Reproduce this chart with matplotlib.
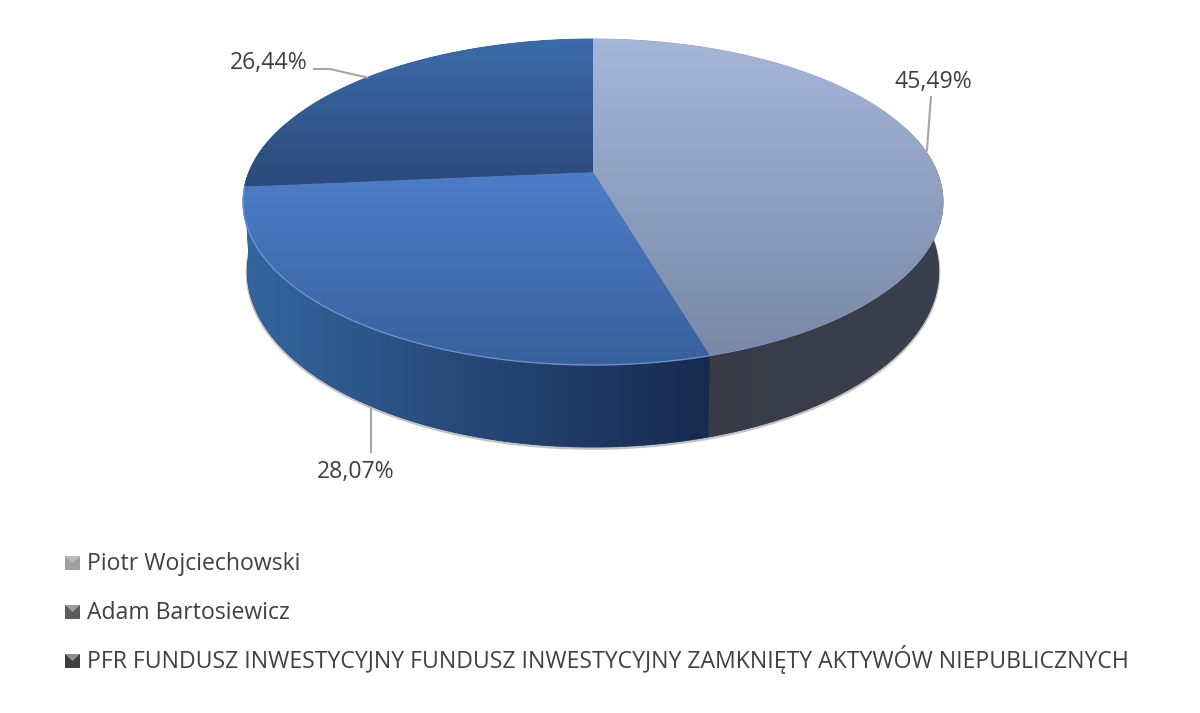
import numpy as np
import matplotlib
matplotlib.use('Agg')
import matplotlib.pyplot as plt
from matplotlib.colors import LinearSegmentedColormap, to_rgb
from matplotlib.patches import Polygon, Rectangle

## DATA ##
labels = ['Piotr Wojciechowski', 'Adam Bartosiewicz',
          'PFR FUNDUSZ INWESTYCYJNY FUNDUSZ INWESTYCYJNY ZAMKNIĘTY AKTYWÓW NIEPUBLICZNYCH']
values = [45.49, 28.07, 26.44]
value_labels = ['45,49%', '28,07%', '26,44%']
top_colors = [('#a6b6d9', '#7888a6'), ('#4e7dc8', '#38609c'), ('#3d6bab', '#2c4a7a')]
side_colors = [('#383b46', '#3a404e'), ('#35659f', '#172a4e'), ('#35659f', '#35659f')]
legend_colors = ['#a0a0a0', '#5c5c5c', '#3e3e3e']

## PIE GEOMETRY (perspective disc, in pixels) ##
CX, CY = 593, 172
RX, RY = 344, 157.5
K = 0.184
DEPTH = 67

TEXT = '#404040'
FONT = 'Open Sans'
FS = 16.6


def project(angle):
    # angle in radians, clockwise from the top of the disc
    u, v = np.sin(angle), np.cos(angle)
    w = 1 + K * v
    return CX + RX * u / w, CY - RY * v / w


def project_low(angle):
    v = np.cos(angle)
    x, y = project(angle)
    return CX + (x - CX) * 0.988, y + DEPTH / (1 + K * v)


def gradient(ax, poly_xy, c0, c1, horizontal=False, z=2):
    # solid layer first so no white seam shows between clipped images
    mean = tuple((np.array(to_rgb(c0)) + np.array(to_rgb(c1))) / 2)
    ax.add_patch(Polygon(poly_xy, closed=True, fc=mean, ec=mean, lw=0.6, zorder=z - 0.5))
    cmap = LinearSegmentedColormap.from_list('g', [c0, c1])
    xs, ys = poly_xy[:, 0], poly_xy[:, 1]
    ramp = np.linspace(0, 1, 256)
    img = ramp[None, :] if horizontal else ramp[:, None]
    im = ax.imshow(img, cmap=cmap, extent=(xs.min(), xs.max(), ys.max(), ys.min()),
                   aspect='auto', zorder=z, interpolation='bilinear')
    patch = Polygon(poly_xy, closed=True, transform=ax.transData, fc='none', ec='none')
    ax.add_patch(patch)
    im.set_clip_path(patch)


fig = plt.figure(figsize=(12, 7.13), dpi=100, facecolor='white')
ax = fig.add_axes([0, 0, 1, 1])

edges = np.cumsum([0] + values) / sum(values) * 2 * np.pi

# soft shadow under the rim
arc = np.linspace(np.pi / 2 - 0.1, 3 * np.pi / 2 + 0.1, 200)
sx, sy = project_low(arc)
ax.plot(sx, sy + 1.2, color='#c4c4c4', lw=2.2, zorder=1)

# side walls, only the part facing the viewer (a bit past the sides for the silhouette)
for i in range(3):
    a0 = max(edges[i], np.pi / 2 - 0.3)
    a1 = min(edges[i + 1], 3 * np.pi / 2 + 0.3)
    if a1 <= a0:
        continue
    arc = np.linspace(a0, a1, 120)
    tx, ty = project(arc)
    lx, ly = project_low(arc)
    wall = np.column_stack([np.r_[tx, lx[::-1]], np.r_[ty, ly[::-1]]])
    gradient(ax, wall, side_colors[i][0], side_colors[i][1], horizontal=True, z=2)

# top faces
for i in range(3):
    arc = np.linspace(edges[i], edges[i + 1], 160)
    tx, ty = project(arc)
    face = np.column_stack([np.r_[CX, tx], np.r_[CY, ty]])
    gradient(ax, face, top_colors[i][0], top_colors[i][1], z=3)

# light rim on the front edge of the blue slice
arc = np.linspace(edges[1], edges[2], 160)
tx, ty = project(arc)
ax.plot(tx, ty, color='#7ea3dc', lw=1.0, alpha=0.7, zorder=4)

# leader lines and value labels
mids = (edges[:-1] + edges[1:]) / 2
x0, y0 = project(mids[0])
ax.plot([x0 + 2, x0 + 6], [y0, 97], color='#a6a6a6', lw=1.5, zorder=5)
ax.text(933, 88, value_labels[0], ha='center', va='baseline', fontsize=FS, color=TEXT, family=FONT)
x1, y1 = project_low(mids[1])
ax.plot([371, 371], [y1 + 3, 452], color='#a6a6a6', lw=1.5, zorder=1.5)
ax.text(355.5, 478, value_labels[1], ha='center', va='baseline', fontsize=FS, color=TEXT, family=FONT)
x2, y2 = project(mids[2])
ax.plot([314, 330, x2], [69, 69, y2], color='#a6a6a6', lw=1.5, zorder=5)
ax.text(268.5, 69, value_labels[2], ha='center', va='baseline', fontsize=FS, color=TEXT, family=FONT)

# legend
legend_y = [563, 612, 661]
for name, c, ly in zip(labels, legend_colors, legend_y):
    ax.add_patch(Rectangle((65, ly - 7), 15, 14, fc=c, ec='none', zorder=3))
    ax.add_patch(Polygon([(65, ly - 7), (80, ly - 7), (72.5, ly)], closed=True,
                         fc='#d4d4d4', alpha=0.55, ec='none', zorder=4))
    ax.text(87, ly + 7, name, ha='left', va='baseline', fontsize=FS, color=TEXT, family=FONT)

ax.set_xlim(0, 1200)
ax.set_ylim(713, 0)
ax.axis('off')

fig.savefig('out.png', dpi=100, facecolor='white')
